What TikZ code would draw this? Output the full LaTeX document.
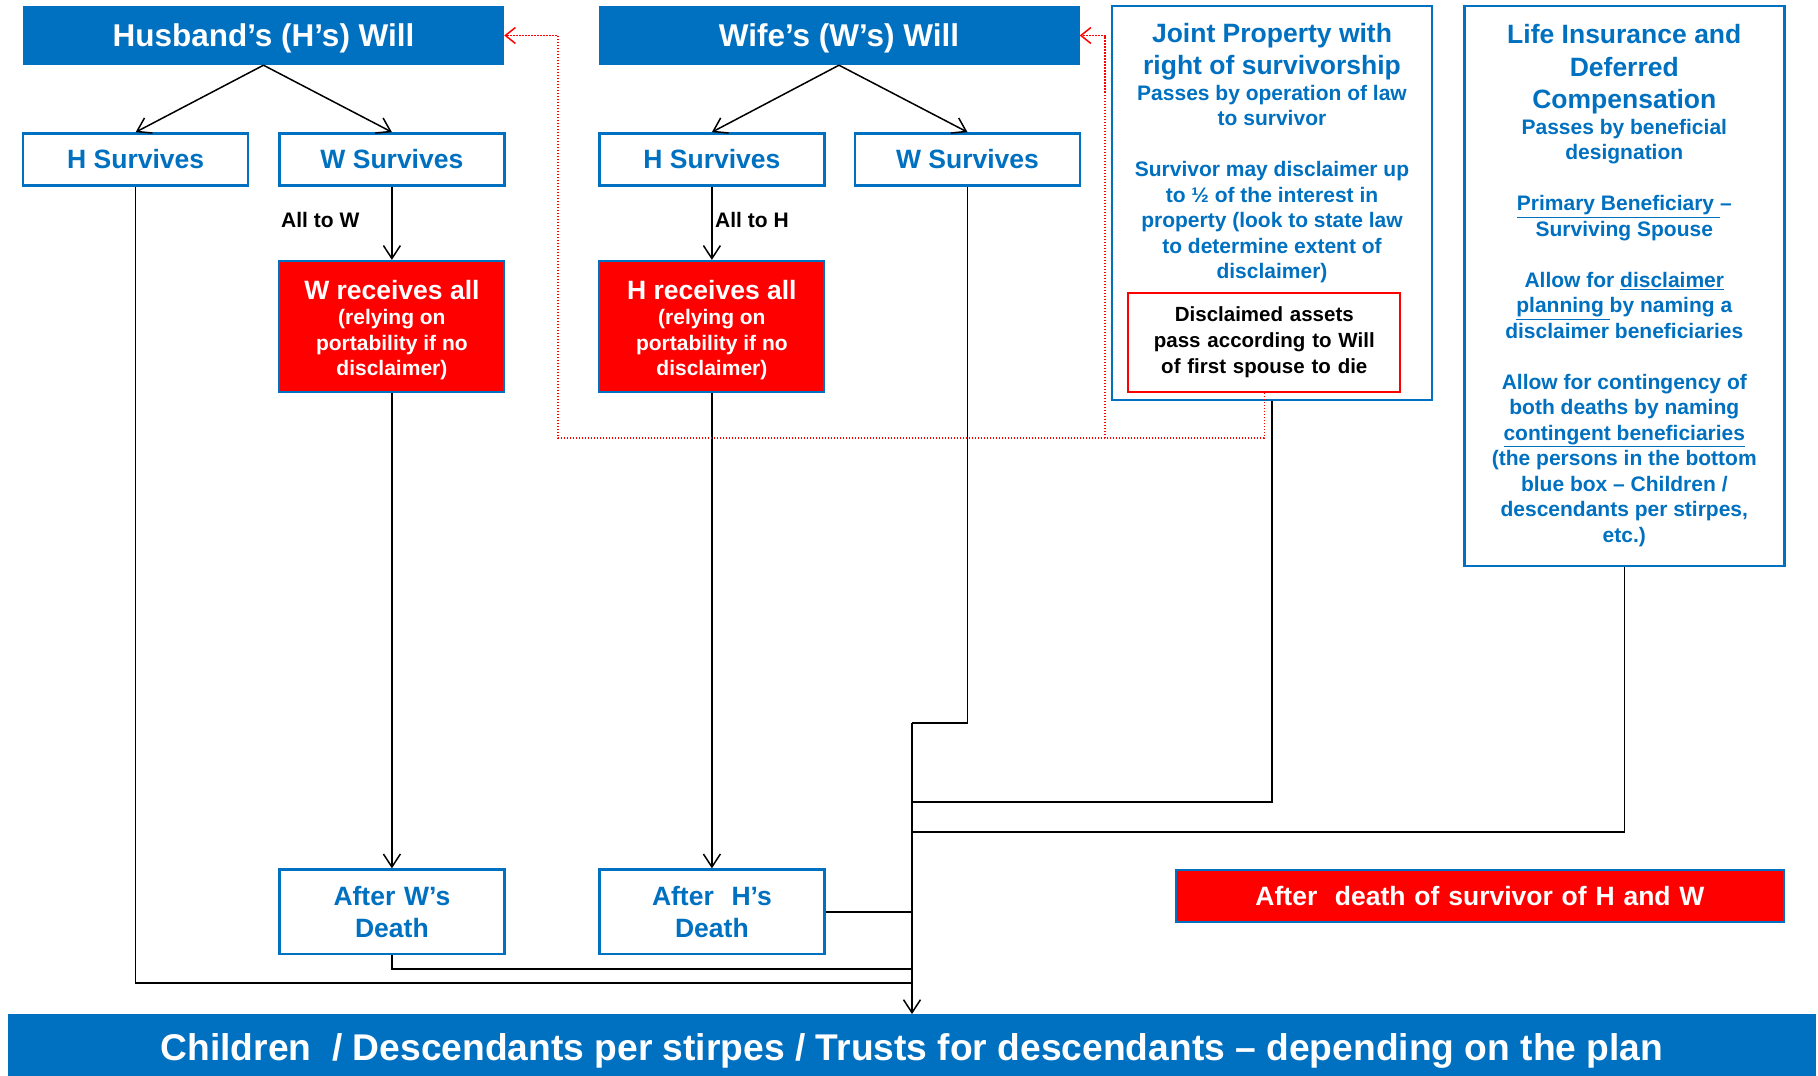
\documentclass[tikz,border=0pt]{standalone}
\usepackage{fontspec}
\setmainfont{Liberation Sans}
\usetikzlibrary{arrows.meta, calc}
\definecolor{willblue}{HTML}{0070C0}
\definecolor{alertred}{HTML}{FF0000}
\newcommand{\boxhead}{\bfseries\fontsize{26.5}{32.5}\selectfont\spaceskip=\fontdimen2\font\relax}
\newcommand{\boxbody}{\bfseries\fontsize{21}{25.5}\selectfont\spaceskip=\fontdimen2\font\relax}
\tikzset{
  will/.style     = {rectangle, fill=willblue, text=white, minimum width=481pt,
                     minimum height=59pt, inner sep=0pt, text height=21pt, text depth=0pt,
                     font=\bfseries\fontsize{31.5}{38}\selectfont},
  branch/.style   = {rectangle, draw=willblue, line width=2.5pt, fill=white,
                     text=willblue, minimum width=225pt, minimum height=52pt,
                     inner sep=0pt, font=\boxhead},
  outcome/.style  = {rectangle, draw=willblue, line width=2pt, fill=alertred,
                     text=white, text width=225pt, align=center,
                     minimum height=131pt, inner sep=0pt},
  after/.style    = {rectangle, draw=willblue, line width=2.5pt, fill=white,
                     text=willblue, text width=225pt, align=center,
                     minimum height=84.6pt, inner sep=0pt, font=\boxhead},
  asset/.style    = {rectangle, draw=willblue, line width=2.5pt, fill=white,
                     text=willblue, text width=320pt, align=center, inner sep=0pt},
  disclaim/.style = {rectangle, draw=alertred, line width=2pt, fill=white,
                     text=black, text width=272pt, align=center,
                     minimum height=98.6pt, inner sep=0pt,
                     font=\bfseries\fontsize{20.5}{26}\selectfont},
  tag/.style      = {anchor=west, inner sep=0pt, font=\bfseries\fontsize{21}{25}\selectfont},
  flow/.style     = {-{Straight Barb[length=13pt,width=17pt]}, line width=1.5pt, draw=black},
  link/.style     = {line width=1.5pt, draw=black},
  passback/.style = {-{Straight Barb[length=10pt,width=16pt]}, line width=1.5pt,
                     draw=alertred, dash pattern=on 1.5pt off 1.5pt},
}

\begin{document}
\begin{tikzpicture}[x=1pt, y=-1pt]
  \useasboundingbox (0,0) rectangle (1818,1076);

  \node[will] (hwill) at (263.5,35.5) {Husband’s (H’s) Will};
  \node[will] (wwill) at (839,35.5) {Wife’s (W’s) Will};

  \node[branch] (hsurvh) at (135.7,159.4) {H Survives};
  \node[branch] (wsurvh) at (391.9,159.4) {W Survives};
  \node[branch] (hsurvw) at (711.9,159.4) {H Survives};
  \node[branch] (wsurvw) at (967.5,159.4) {W Survives};

  \node[tag] (alltow) at (281,220) {All to W};
  \node[tag] (alltoh) at (715,220) {All to H};

  \node[outcome] (wrecv) at (391.9,326.4) {{\boxhead W receives all\par}
    {\boxbody (relying on\\portability if no\\disclaimer)\par}\vspace{-7pt}};
  \node[outcome] (hrecv) at (711.9,326.4) {{\boxhead H receives all\par}
    {\boxbody (relying on\\portability if no\\disclaimer)\par}\vspace{-7pt}};

  \node[after] (afterw) at (391.9,911.9) {After W’s\\Death};
  \node[after] (afterh) at (711.9,911.9) {After\ \ H’s\\Death};

  \node[asset, minimum width=320pt, minimum height=394pt] (joint) at (1272,203) {};
  \node[anchor=north, text=willblue, text width=320pt, align=center, inner sep=0pt]
    (jointtext) at (1272,23) {{\boxhead Joint Property with\\right of survivorship\par}
    {\boxbody Passes by operation of law\\to survivor\par\vspace{25.5pt}
    Survivor may disclaimer up\\to ½ of the interest in\\property (look to state law\\to determine extent of\\disclaimer)\par}};
  \node[disclaim] (discl) at (1264.3,342.6) {Disclaimed assets\\pass according to Will\\of first spouse to die};

  \node[asset, minimum height=560pt] (life) at (1624.3,285.8) {{\boxhead Life Insurance and\\Deferred\\Compensation\par}
    {\boxbody Passes by beneficial\\designation\par\vspace{25.5pt}
    \underline{Primary Beneficiary\ }–\\Surviving Spouse\par\vspace{25.5pt}
    Allow for \underline{disclaimer}\\\underline{planning\ }by naming a\\disclaimer beneficiaries\par\vspace{25.5pt}
    Allow for contingency of\\both deaths by naming\\\underline{contingent beneficiaries}\\(the persons in the bottom\\blue box – Children /\\descendants per stirpes,\\etc.)\par}};

  \node[outcome, text width=608pt, minimum height=52pt, font=\boxhead] (lastdeath)
    at (1480,895.6) {After\ \ death of survivor of H and W};

  \node[will, minimum width=1808pt, minimum height=61.5pt, text height=31.4pt,
        font=\bfseries\fontsize{37.2}{45}\selectfont] (kids) at (912,1045)
    {Children\ \ / Descendants per stirpes / Trusts for descendants – depending on the plan};

  \coordinate (trunk) at (912,723);
  \coordinate (mjoint) at (912,802);
  \coordinate (mlife) at (912,832);
  \coordinate (mw) at (912,969);
  \coordinate (mh) at (912,983);
  \coordinate (dcorner) at (558,438);
  \coordinate (dsplit) at (1105,438);

  \draw[flow] (hwill.south) -- (hsurvh.north);
  \draw[flow] (hwill.south) -- (wsurvh.north);
  \draw[flow] (wwill.south) -- (hsurvw.north);
  \draw[flow] (wwill.south) -- (wsurvw.north);
  \draw[flow] (wsurvh.south) -- (wrecv.north);
  \draw[flow] (hsurvw.south) -- (hrecv.north);
  \draw[flow] (wrecv.south) -- (afterw.north);
  \draw[flow] (hrecv.south) -- (afterh.north);

  \draw[link] (wsurvw.south) |- (trunk);
  \draw[link] (joint.south) |- (mjoint);
  \draw[link] (life.south) |- (mlife);
  \draw[link] (afterh.east) -- (afterh.east -| trunk);
  \draw[link] (afterw.south) |- (mw);
  \draw[link] (hsurvh.south) |- (mh);
  \draw[flow] (trunk) -- (trunk |- kids.north);

  \draw[passback] (discl.south) |- (dcorner) |- (hwill.east);
  \draw[passback] (dsplit) |- (wwill.east);
\end{tikzpicture}
\end{document}
